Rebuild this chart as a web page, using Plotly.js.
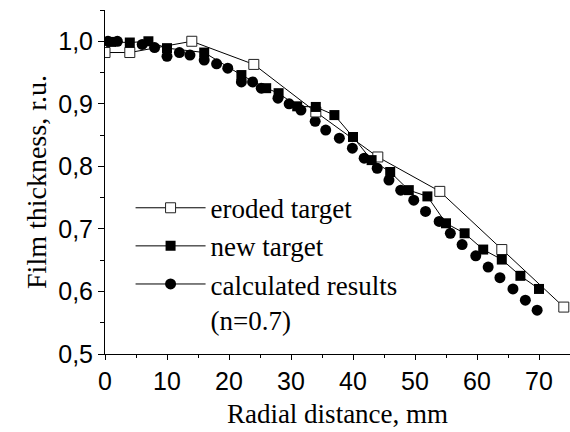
<!DOCTYPE html>
<html>
<head>
<meta charset="utf-8">
<script src="https://cdn.plot.ly/plotly-3.0.1.min.js"></script>
<style>html,body{margin:0;padding:0;background:#fff;}#chart{width:570px;height:432px;}</style>
</head>
<body>
<div id="chart"></div>
<script>
// Eroded target (open squares)
const erodedX = [0, 4, 14, 24, 34, 44, 54, 64, 74];
const erodedY = [0.982, 0.982, 1.0, 0.963, 0.887, 0.815, 0.76, 0.667, 0.575];

// New target (filled squares)
const newX = [1, 4, 7, 10, 16, 22, 26, 28, 31, 34, 37, 40, 43, 46, 49, 52, 55, 58, 61, 64, 67, 70];
const newY = [0.999, 0.998, 1.0, 0.989, 0.982, 0.946, 0.925, 0.917, 0.896, 0.895, 0.882, 0.847, 0.81, 0.791, 0.762, 0.752, 0.709, 0.693, 0.667, 0.651, 0.625, 0.604];

// Calculated results (filled circles)
const calcX = [0.5, 2, 6, 8, 10, 12, 13.7, 16, 18, 19.8, 22, 23.8, 25.2, 27.9, 29.7, 31.6, 33.9, 35.6, 37.8, 39.9, 41.8, 43.9, 45.8, 47.7, 49.8, 51.7, 53.9, 55.7, 57.6, 59.8, 61.8, 63.7, 65.8, 67.8, 69.7];
const calcY = [1.0, 1.0, 0.995, 0.99, 0.976, 0.982, 0.978, 0.97, 0.964, 0.957, 0.935, 0.935, 0.925, 0.909, 0.9, 0.89, 0.872, 0.858, 0.845, 0.829, 0.813, 0.797, 0.778, 0.762, 0.746, 0.728, 0.712, 0.693, 0.675, 0.657, 0.639, 0.622, 0.604, 0.586, 0.57];

const names = ["eroded target", "new target", "calculated results<br>(n=0.7)"];
const yTicks = [0.5, 0.6, 0.7, 0.8, 0.9, 1.0];
const xTicks = [0, 10, 20, 30, 40, 50, 60, 70];

const traces = [
  {x: calcX, y: calcY, mode: "markers", showlegend: false,
   marker: {symbol: "circle", size: 11, color: "#000"}},
  {x: erodedX, y: erodedY, mode: "lines+markers", name: names[0], legendrank: 1,
   line: {color: "#000", width: 1},
   marker: {symbol: "square", size: 10, color: "#fff", line: {color: "#222", width: 1}}},
  {x: newX, y: newY, mode: "lines+markers", name: names[1], legendrank: 2,
   line: {color: "#000", width: 1},
   marker: {symbol: "square", size: 10, color: "#000"}},
  {x: [null], y: [null], mode: "lines+markers", name: names[2], legendrank: 3,
   line: {color: "#000", width: 1},
   marker: {symbol: "circle", size: 11, color: "#000"}}
];

const serif = "Liberation Serif, Times New Roman, serif";
const sans = "Liberation Sans, Arial, sans-serif";

const layout = {
  width: 570, height: 432,
  margin: {l: 105, r: 0, t: 10, b: 78},
  paper_bgcolor: "#fff", plot_bgcolor: "#fff",
  separators: ",.",
  showlegend: true,
  legend: {x: 0.055, y: 0.495, xanchor: "left", yanchor: "top",
           font: {family: serif, size: 27, color: "#000"},
           bgcolor: "rgba(0,0,0,0)", itemwidth: 70, valign: "top",
           tracegroupgap: 0},
  xaxis: {range: [0, 75], tickvals: xTicks, ticks: "outside", ticklen: 5, tickwidth: 1,
          tickcolor: "#000", showline: true, linecolor: "#000", linewidth: 1,
          showgrid: false, zeroline: false,
          minor: {dtick: 5, tick0: 0, ticks: "outside", ticklen: 3, tickcolor: "#000", showgrid: false},
          tickfont: {family: sans, size: 25, color: "#000"},
          title: {text: "Radial distance, mm", font: {family: serif, size: 27, color: "#000"}, standoff: 10}},
  yaxis: {range: [0.5, 1.05], tickvals: yTicks, tickformat: ".1f", ticks: "outside", ticklen: 6, tickwidth: 1,
          tickcolor: "#000", showline: true, linecolor: "#000", linewidth: 1,
          showgrid: false, zeroline: false,
          minor: {dtick: 0.05, tick0: 0.5, ticks: "outside", ticklen: 4, tickcolor: "#000", showgrid: false},
          tickfont: {family: sans, size: 25, color: "#000"},
          title: {text: "Film thickness, r.u.", font: {family: serif, size: 28, color: "#000"}, standoff: 3}}
};

Plotly.newPlot("chart", traces, layout, {displayModeBar: false, staticPlot: true});
</script>
</body>
</html>
